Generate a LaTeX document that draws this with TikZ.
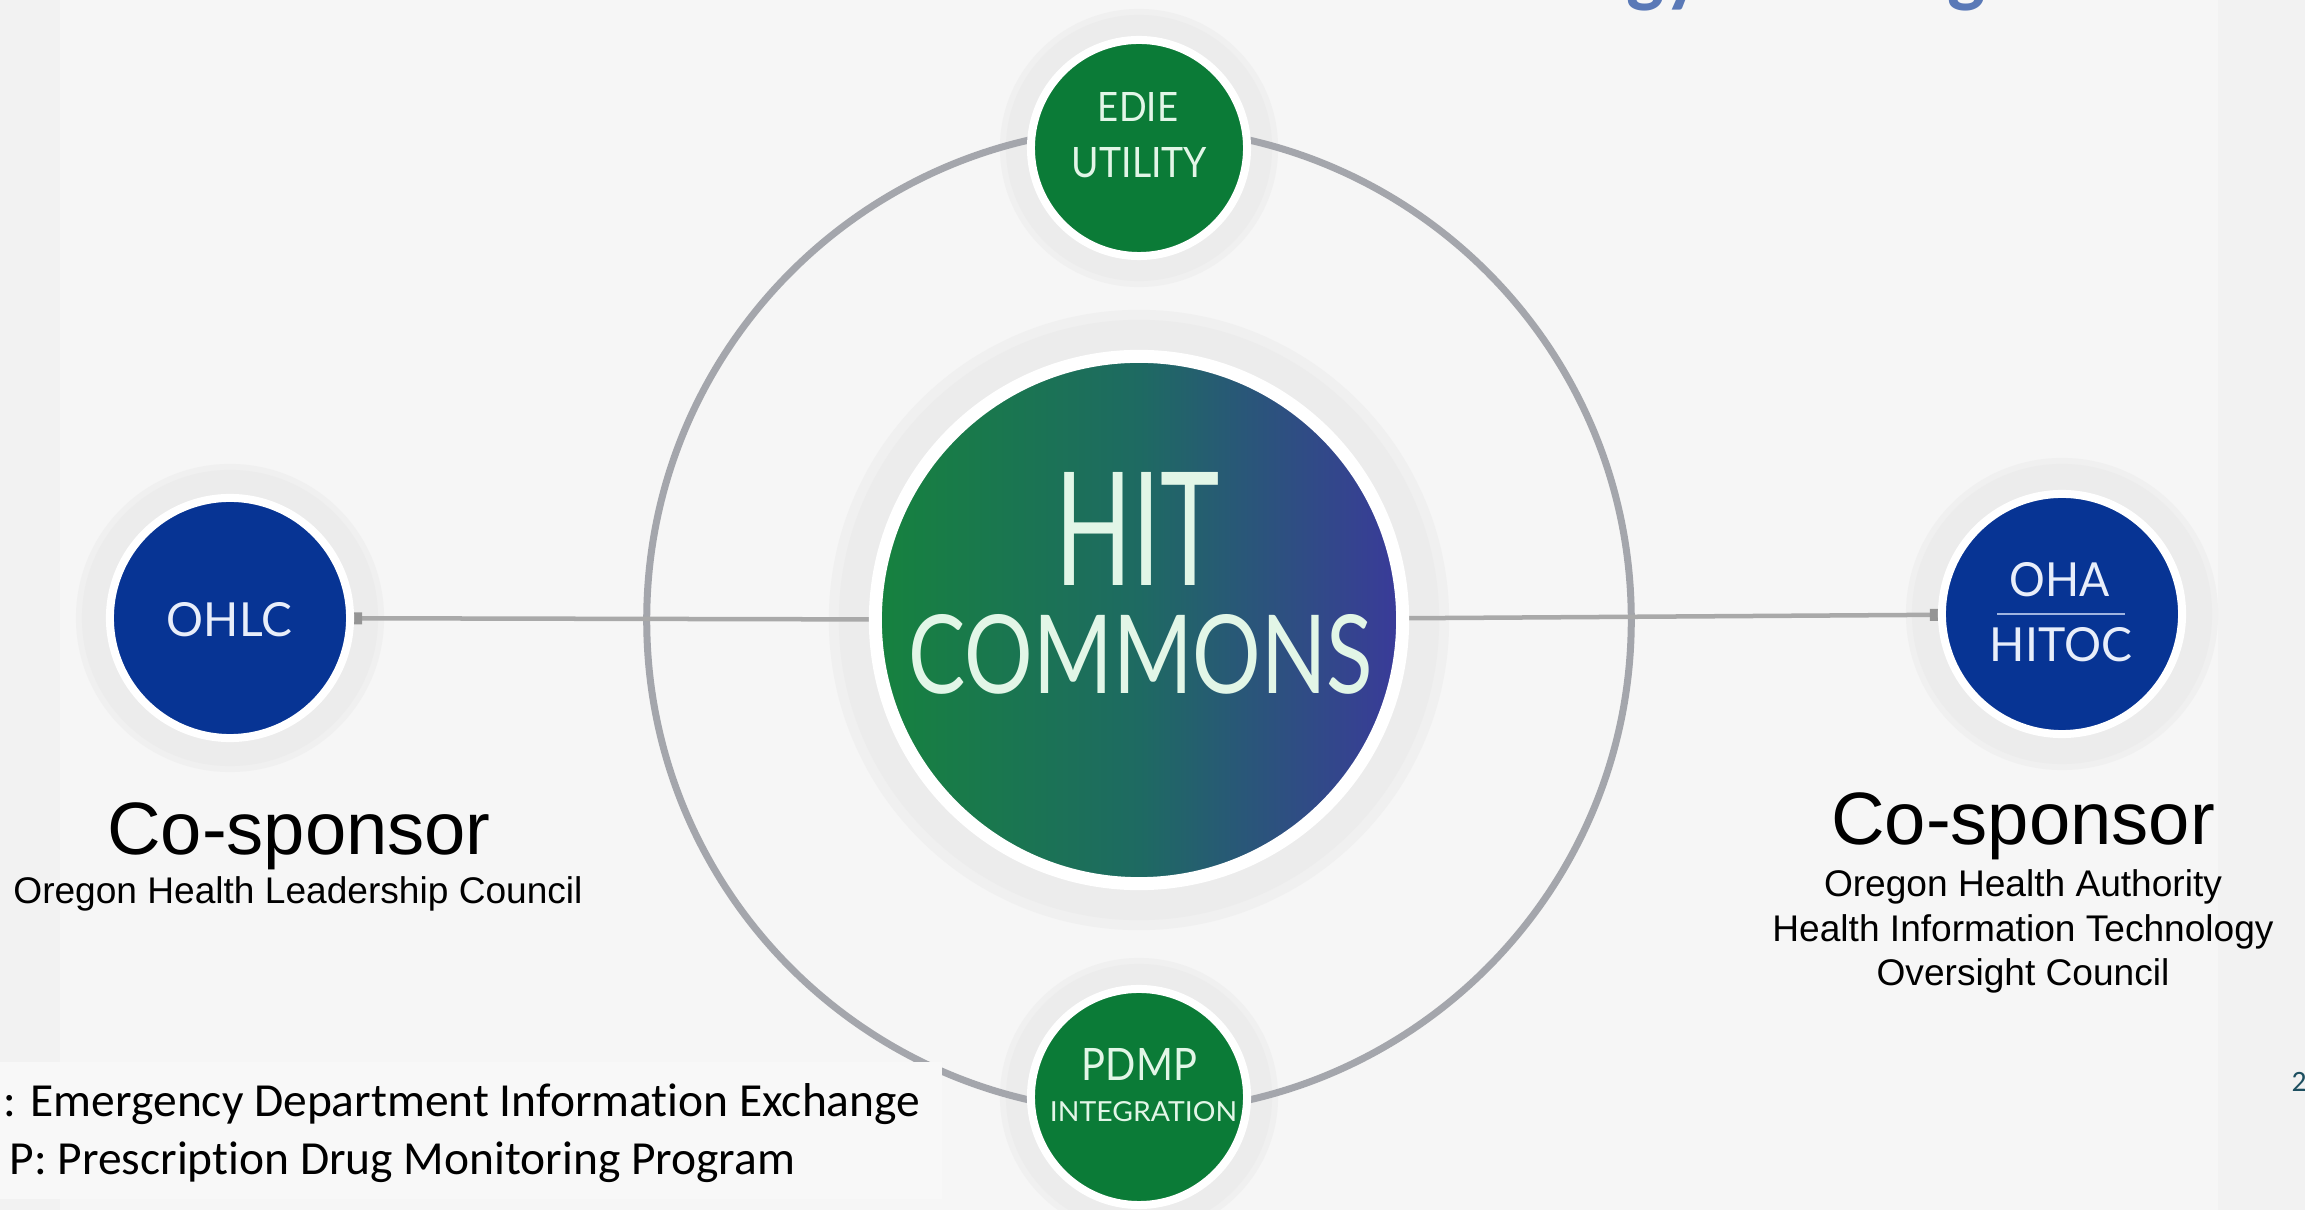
\documentclass[tikz,border=0pt]{standalone}
\usepackage{fontspec}
\usepackage{graphicx}
\setmainfont{Liberation Sans}
\newfontfamily\roundfont{Lato}
\newfontfamily\notefont[Ligatures={NoCommon}]{Carlito}
\usetikzlibrary{arrows.meta}

\definecolor{outerbg}{HTML}{F2F2F2}
\definecolor{innerbg}{HTML}{F6F6F6}
\definecolor{boxbg}{HTML}{F8F8F8}
\definecolor{halogray}{HTML}{ECECEC}
\definecolor{halosoft}{HTML}{F0F0F0}
\definecolor{ringgray}{HTML}{A4A6AC}
\definecolor{linkgray}{HTML}{A9A9A9}
\definecolor{dotgray}{HTML}{959595}
\definecolor{edgreen}{HTML}{0B7B37}
\definecolor{ohblue}{HTML}{073494}
\definecolor{hubgreen}{HTML}{16823E}
\definecolor{hubteal}{HTML}{1E6A62}
\definecolor{hubblue}{HTML}{3A3A9A}
\definecolor{greentext}{HTML}{E2F6E7}
\definecolor{bluetext}{HTML}{E8EEFA}
\definecolor{barblue}{HTML}{9FB4E0}
\definecolor{titleblue}{HTML}{5A79B7}
\definecolor{pagecol}{HTML}{1D4F60}

% scale a caps label to a given width and cap height (in cm)
\newcommand\circtext[3]{\resizebox{#1cm}{#2cm}{#3}}

\pgfdeclarelayer{back}
\pgfdeclarelayer{halo}
\pgfdeclarelayer{under}
\pgfsetlayers{back,halo,under,main}

\begin{document}
\begin{tikzpicture}[x=0.01cm,y=-0.01cm,
  sqdot/.tip={Square[length=0.08cm,width=0.12cm,color=dotgray]},
  disc/.style={circle,draw=white,inner sep=0pt},
  greendisc/.style={disc,fill=edgreen,minimum size=2.16cm,line width=0.08cm},
  bluedisc/.style={disc,fill=ohblue,minimum size=2.40cm,line width=0.08cm},
  hubdisc/.style={disc,minimum size=5.27cm,line width=0.13cm,
    left color=hubgreen,right color=hubblue,middle color=hubteal},
  glabel/.style={inner sep=0pt,font=\roundfont,text=greentext},
  blabel/.style={inner sep=0pt,font=\roundfont,text=bluetext},
  ring/.style={draw=ringgray,line width=0.07cm},
  link/.style={draw=linkgray,line width=0.045cm},
  bigcap/.style={inner sep=0pt,font={\fontsize{21.1pt}{25pt}\selectfont}},
  smallcap/.style={inner sep=0pt,font={\fontsize{10.55pt}{12.6pt}\selectfont}},
  note/.style={inner sep=0pt,font={\notefont\fontsize{13.5pt}{16pt}\selectfont}},
  pagenum/.style={inner sep=0pt,text=pagecol,font={\notefont\fontsize{8.4pt}{10pt}\selectfont}},
  titlefrag/.style={inner sep=0pt,text=titleblue,font={\notefont\bfseries\fontsize{22.8pt}{27pt}\selectfont}}
]

% slide background and picture panel
\begin{pgfonlayer}{back}
  \fill[outerbg] (0,0) rectangle (2305,1210);
  \fill[innerbg] (60,0) rectangle (2218,1210);
\end{pgfonlayer}
\useasboundingbox (0,0) rectangle (2305,1210);

% discs
\node[hubdisc]   (hub)  at (1139,620) {};
\node[greendisc] (edie) at (1139,148) {};
\node[greendisc] (pdmp) at (1139,1097) {};
\node[bluedisc]  (ohlc) at (230,618) {};
\node[bluedisc]  (oha)  at (2062,614) {};

% soft halos behind the discs
\begin{pgfonlayer}{halo}
  \fill[halosoft] (hub.center) circle[radius=3.10cm];
  \fill[halogray] (hub.center) circle[radius=3.00cm];
  \foreach \n/\r in {edie/1.33,pdmp/1.33,ohlc/1.48,oha/1.50}{
    \fill[halosoft] (\n.center) circle[radius=\r cm+0.06cm];
    \fill[halogray] (\n.center) circle[radius=\r cm];
  }
\end{pgfonlayer}

% orbit ring and connectors
\begin{pgfonlayer}{under}
  \draw[ring] (hub.center) circle[radius=4.92cm];
  \draw[link,{sqdot}-] (ohlc) -- (hub);
  \draw[link,-{sqdot}] (hub) -- (oha);
\end{pgfonlayer}

% disc labels
\node[glabel] (hit)  at (1138,529) {\circtext{1.64}{1.13}{HIT}};
\node[glabel] (com)  at (1141,654.5) {\circtext{4.64}{0.79}{COMMONS}};
\node[glabel] (ed1)  at (1138,107.5) {\circtext{0.80}{0.29}{EDIE}};
\node[glabel] (ed2)  at (1139.5,163) {\circtext{1.35}{0.30}{UTILITY}};
\node[glabel] (pd1)  at (1139.5,1064) {\circtext{1.15}{0.32}{PDMP}};
\node[glabel] (pd2)  at (1143.5,1112) {\circtext{1.87}{0.20}{INTEGRATION}};
\node[blabel] (oh1)  at (229.5,620) {\circtext{1.25}{0.34}{OHLC}};
\node[blabel] (oa1)  at (2060,580) {\circtext{1.00}{0.34}{OHA}};
\node[blabel] (oa2)  at (2061,645) {\circtext{1.42}{0.34}{HITOC}};
\coordinate (barl) at (1997,614);
\coordinate (barr) at (2125,614);
\draw[barblue,line width=0.02cm] (barl) -- (barr);

% sponsor captions
\node[bigcap,anchor=base]   (lcs) at (299,855) {Co-sponsor};
\node[smallcap,anchor=base] (lcn) at (298,904) {Oregon Health Leadership Council};
\node[bigcap,anchor=base]   (rcs) at (2023,845) {Co-sponsor};
\node[smallcap,anchor=base] (rc1) at (2023,897) {Oregon Health Authority};
\node[smallcap,anchor=base] (rc2) at (2023,942) {Health Information Technology};
\node[smallcap,anchor=base] (rc3) at (2023,986) {Oversight Council};

% acronym notes
\fill[boxbg] (0,1062) rectangle (942,1199);
\node[note,anchor=base west] (n1) at (3,1117) {: Emergency Department Information Exchange};
\node[note,anchor=base west] (n2) at (9,1175) {P: Prescription Drug Monitoring Program};

% page number and title descenders
\node[pagenum,anchor=base west] (pg) at (2291,1092) {2};
\node[titlefrag,anchor=base west] (tg1) at (1626,-2) {gy};
\node[titlefrag,anchor=base west] (tg2) at (1947,-2) {g};

\end{tikzpicture}
\end{document}
